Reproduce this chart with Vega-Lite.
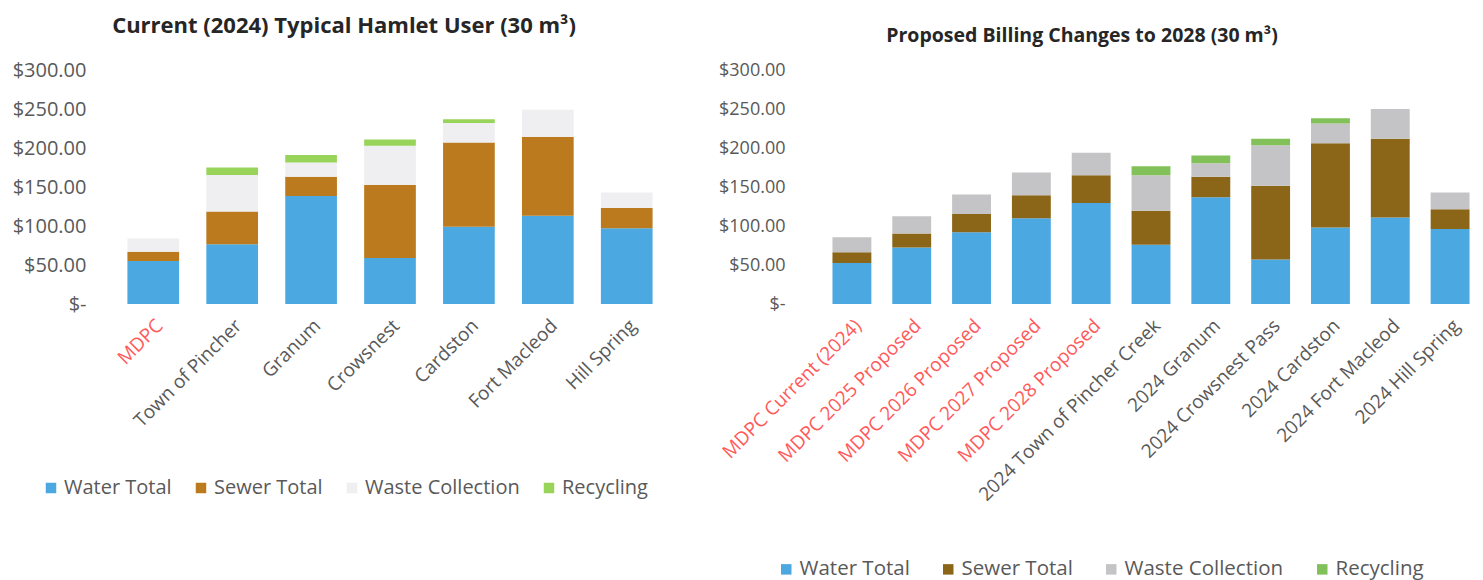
{
  "$schema": "https://vega.github.io/schema/vega-lite/v6.json",
  "padding": {"left": 12, "top": 15, "right": 0, "bottom": 0},
  "background": "white",
  "bounds": "flush",
  "spacing": 156,
  "datasets": {
    "current": [
      {"town": "MDPC", "component": "Water Total", "value": 55},
      {"town": "MDPC", "component": "Sewer Total", "value": 12},
      {"town": "MDPC", "component": "Waste Collection", "value": 17},
      {"town": "Town of Pincher", "component": "Water Total", "value": 76.5},
      {"town": "Town of Pincher", "component": "Sewer Total", "value": 42},
      {"town": "Town of Pincher", "component": "Waste Collection", "value": 47},
      {"town": "Town of Pincher", "component": "Recycling", "value": 9.5},
      {"town": "Granum", "component": "Water Total", "value": 138.5},
      {"town": "Granum", "component": "Sewer Total", "value": 24.5},
      {"town": "Granum", "component": "Waste Collection", "value": 18.5},
      {"town": "Granum", "component": "Recycling", "value": 9.5},
      {"town": "Crowsnest", "component": "Water Total", "value": 59},
      {"town": "Crowsnest", "component": "Sewer Total", "value": 93.5},
      {"town": "Crowsnest", "component": "Waste Collection", "value": 50.5},
      {"town": "Crowsnest", "component": "Recycling", "value": 8},
      {"town": "Cardston", "component": "Water Total", "value": 99},
      {"town": "Cardston", "component": "Sewer Total", "value": 108},
      {"town": "Cardston", "component": "Waste Collection", "value": 25},
      {"town": "Cardston", "component": "Recycling", "value": 5},
      {"town": "Fort Macleod", "component": "Water Total", "value": 113},
      {"town": "Fort Macleod", "component": "Sewer Total", "value": 101},
      {"town": "Fort Macleod", "component": "Waste Collection", "value": 35},
      {"town": "Hill Spring", "component": "Water Total", "value": 97},
      {"town": "Hill Spring", "component": "Sewer Total", "value": 26},
      {"town": "Hill Spring", "component": "Waste Collection", "value": 20}
    ],
    "proposed": [
      {"town": "MDPC Current (2024)", "component": "Water Total", "value": 52.5},
      {"town": "MDPC Current (2024)", "component": "Sewer Total", "value": 14},
      {"town": "MDPC Current (2024)", "component": "Waste Collection", "value": 19},
      {"town": "MDPC 2025 Proposed", "component": "Water Total", "value": 72.5},
      {"town": "MDPC 2025 Proposed", "component": "Sewer Total", "value": 18},
      {"town": "MDPC 2025 Proposed", "component": "Waste Collection", "value": 22},
      {"town": "MDPC 2026 Proposed", "component": "Water Total", "value": 92},
      {"town": "MDPC 2026 Proposed", "component": "Sewer Total", "value": 23.5},
      {"town": "MDPC 2026 Proposed", "component": "Waste Collection", "value": 25},
      {"town": "MDPC 2027 Proposed", "component": "Water Total", "value": 110},
      {"town": "MDPC 2027 Proposed", "component": "Sewer Total", "value": 29.5},
      {"town": "MDPC 2027 Proposed", "component": "Waste Collection", "value": 29},
      {"town": "MDPC 2028 Proposed", "component": "Water Total", "value": 129.5},
      {"town": "MDPC 2028 Proposed", "component": "Sewer Total", "value": 35.5},
      {"town": "MDPC 2028 Proposed", "component": "Waste Collection", "value": 29},
      {"town": "2024 Town of Pincher Creek", "component": "Water Total", "value": 76},
      {"town": "2024 Town of Pincher Creek", "component": "Sewer Total", "value": 43.5},
      {"town": "2024 Town of Pincher Creek", "component": "Waste Collection", "value": 45.5},
      {"town": "2024 Town of Pincher Creek", "component": "Recycling", "value": 11.5},
      {"town": "2024 Granum", "component": "Water Total", "value": 137},
      {"town": "2024 Granum", "component": "Sewer Total", "value": 26},
      {"town": "2024 Granum", "component": "Waste Collection", "value": 17.5},
      {"town": "2024 Granum", "component": "Recycling", "value": 10},
      {"town": "2024 Crowsnest Pass", "component": "Water Total", "value": 57},
      {"town": "2024 Crowsnest Pass", "component": "Sewer Total", "value": 94.5},
      {"town": "2024 Crowsnest Pass", "component": "Waste Collection", "value": 52},
      {"town": "2024 Crowsnest Pass", "component": "Recycling", "value": 8.5},
      {"town": "2024 Cardston", "component": "Water Total", "value": 98},
      {"town": "2024 Cardston", "component": "Sewer Total", "value": 108},
      {"town": "2024 Cardston", "component": "Waste Collection", "value": 25.5},
      {"town": "2024 Cardston", "component": "Recycling", "value": 6.5},
      {"town": "2024 Fort Macleod", "component": "Water Total", "value": 111},
      {"town": "2024 Fort Macleod", "component": "Sewer Total", "value": 101},
      {"town": "2024 Fort Macleod", "component": "Waste Collection", "value": 38},
      {"town": "2024 Hill Spring", "component": "Water Total", "value": 96},
      {"town": "2024 Hill Spring", "component": "Sewer Total", "value": 25.5},
      {"town": "2024 Hill Spring", "component": "Waste Collection", "value": 21.5}
    ]
  },
  "config": {
    "font": "Open Sans",
    "view": {"stroke": null},
    "axis": {"grid": false, "ticks": false, "domain": false, "title": null, "labelFont": "Open Sans", "labelColor": "#595959", "labelLimit": 500},
    "title": {"font": "Open Sans", "fontWeight": "bold", "color": "#262626"},
    "legend": {"labelFont": "Open Sans", "labelColor": "#595959", "symbolType": "square", "symbolSize": 110, "symbolStrokeWidth": 0, "labelLimit": 400, "title": null, "labelOffset": 3}
  },
  "resolve": {"scale": {"color": "independent", "x": "independent", "y": "independent"}, "legend": {"color": "independent"}},
  "hconcat": [
    {
      "data": {"name": "current"},
      "width": 552,
      "height": 234,
      "title": {"text": "Current (2024) Typical Hamlet User (30 m³)", "fontSize": 22, "offset": 22, "dx": -46, "anchor": "middle"},
      "transform": [{"calculate": "indexof(['Water Total','Sewer Total','Waste Collection','Recycling'], datum.component)", "as": "stackIdx"}],
      "mark": {"type": "bar"},
      "encoding": {
        "x": {
          "field": "town", "type": "nominal", "sort": null,
          "scale": {"paddingInner": 0.345, "paddingOuter": 0.17},
          "axis": {"labelAngle": -45, "labelFontSize": 19, "labelPadding": 12,
                   "labelColor": {"condition": {"test": "indexof(datum.value, 'MDPC') === 0", "value": "#FF5A5A"}, "value": "#595959"}}
        },
        "y": {
          "field": "value", "type": "quantitative", "stack": "zero",
          "scale": {"domain": [0, 300], "nice": false},
          "axis": {"values": [0, 50, 100, 150, 200, 250, 300], "labelFontSize": 20, "labelPadding": 28,
                   "labelExpr": "datum.value === 0 ? '$-\u00a0\u00a0\u00a0' : '$' + format(datum.value, '.2f')"}
        },
        "color": {
          "field": "component", "type": "nominal",
          "scale": {"domain": ["Water Total", "Sewer Total", "Waste Collection", "Recycling"], "range": ["#4BA8E0", "#BB7A1E", "#EFEEF1", "#98D45A"]},
          "legend": {"orient": "none", "direction": "horizontal", "legendX": -73, "legendY": 408, "columnPadding": 19, "labelFontSize": 20}
        },
        "order": {"field": "stackIdx", "type": "quantitative"}
      }
    },
    {
      "data": {"name": "proposed"},
      "width": 658,
      "height": 234,
      "title": {"text": "Proposed Billing Changes to 2028 (30 m³)", "fontSize": 19.5, "offset": 15, "dx": -69, "anchor": "middle"},
      "transform": [{"calculate": "indexof(['Water Total','Sewer Total','Waste Collection','Recycling'], datum.component)", "as": "stackIdx"}],
      "mark": {"type": "bar"},
      "encoding": {
        "x": {
          "field": "town", "type": "nominal", "sort": null,
          "scale": {"paddingInner": 0.35, "paddingOuter": 0.175},
          "axis": {"labelAngle": -45, "labelFontSize": 19, "labelPadding": 12,
                   "labelColor": {"condition": {"test": "indexof(datum.value, 'MDPC') === 0", "value": "#FF5A5A"}, "value": "#595959"}}
        },
        "y": {
          "field": "value", "type": "quantitative", "stack": "zero",
          "scale": {"domain": [0, 300], "nice": false},
          "axis": {"values": [0, 50, 100, 150, 200, 250, 300], "labelFontSize": 18, "labelPadding": 37,
                   "labelExpr": "datum.value === 0 ? '$-' : '$' + format(datum.value, '.2f')"}
        },
        "color": {
          "field": "component", "type": "nominal",
          "scale": {"domain": ["Water Total", "Sewer Total", "Waste Collection", "Recycling"], "range": ["#4BA8E0", "#8C6618", "#C4C4C6", "#82C05A"]},
          "legend": {"orient": "none", "direction": "horizontal", "legendX": -46, "legendY": 489, "columnPadding": 28, "labelFontSize": 20.5}
        },
        "order": {"field": "stackIdx", "type": "quantitative"}
      }
    }
  ]
}
